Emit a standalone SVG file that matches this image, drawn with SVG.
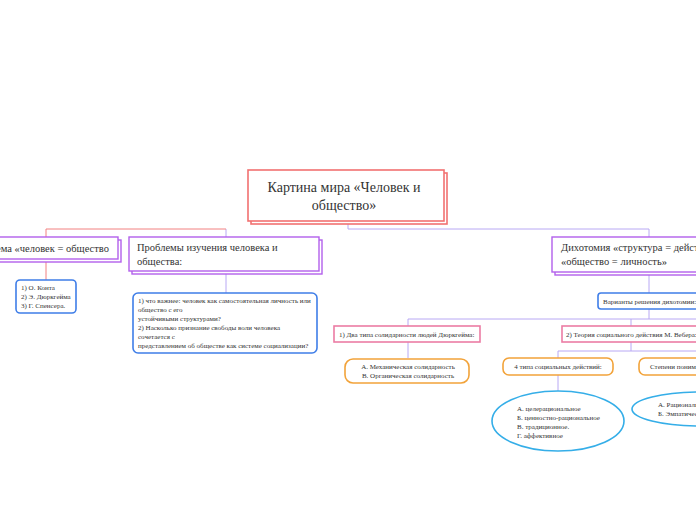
<svg xmlns="http://www.w3.org/2000/svg" width="696" height="520" viewBox="0 0 696 520">
<style>
text{font-family:"Liberation Serif","Times New Roman",serif;fill:#333}
.root{fill:#fff;stroke:#f27171;stroke-width:1.6}
.pur{fill:#fff;stroke:#b260ec;stroke-width:1.4}
.blue{fill:#fff;stroke:#3f7ee8;stroke-width:1.6}
.pink{fill:#fff;stroke:#ec7ca4;stroke-width:1.6}
.orng{fill:#fff;stroke:#f2a33a;stroke-width:1.6}
.ell{fill:#fff;stroke:#35aee8;stroke-width:1.6}
.cr{fill:none;stroke:#f28080;stroke-width:1}
.cl{fill:none;stroke:#b8a8f4;stroke-width:1}
.t11{font-size:10.5px}
.t7{font-size:7px}
</style>
<rect width="696" height="520" fill="#fff"/>
<g id="connectors">
<path class="cl" d="M348 222V229H649V237M226 229V237M226 272V293M649 272V293M649 309V319M408 319H696M408 319V326M631 319V326M408 342V358M631 342V351M558 351H696M558 351V358M558 375V391"/>
<path class="cr" d="M46 229H226M46 229V237M46 259V280"/>
</g>
<g id="root">
<rect class="root" x="251" y="173" width="196" height="51"/>
<rect class="root" x="248" y="170" width="196" height="51"/>
<text x="344" y="192" font-size="14" text-anchor="middle">Картина мира «Человек и</text>
<text x="344" y="210" font-size="14" text-anchor="middle">общество»</text>
</g>
<g id="n1">
<rect class="pur" x="-10" y="240" width="131" height="22"/>
<rect class="pur" x="-13" y="237" width="131" height="22"/>
<text class="t11" x="109" y="252" text-anchor="end">Система «человек = общество</text>
</g>
<g id="n1a">
<rect class="blue" x="16" y="280" width="60" height="33" rx="4"/>
<text class="t7" x="21" y="290">1) О. Конта</text>
<text class="t7" x="21" y="299">2) Э. Дюркгейма</text>
<text class="t7" x="21" y="308">3) Г. Спенсера.</text>
</g>
<g id="n2">
<rect class="pur" x="132" y="240" width="190" height="34"/>
<rect class="pur" x="129" y="237" width="190" height="34"/>
<text class="t11" x="137" y="251">Проблемы изучения человека и</text>
<text class="t11" x="137" y="265">общества:</text>
</g>
<g id="n2a">
<rect class="blue" x="133" y="293" width="184" height="60" rx="5"/>
<text class="t7" x="138" y="303" font-size="6.6">1) что важнее: человек как самостоятельная личность или</text>
<text class="t7" x="138" y="312" font-size="6.6">общество с его</text>
<text class="t7" x="138" y="321" font-size="6.6">устойчивыми структурами?</text>
<text class="t7" x="138" y="330" font-size="6.6">2) Насколько признание свободы воли человека</text>
<text class="t7" x="138" y="339" font-size="6.6">сочетается с</text>
<text class="t7" x="138" y="348" font-size="6.6">представлением об обществе как системе социализации?</text>
</g>
<g id="n3">
<rect class="pur" x="555" y="240" width="190" height="35"/>
<rect class="pur" x="552" y="237" width="190" height="35"/>
<text class="t11" x="561" y="251">Дихотомия «структура = действие»</text>
<text class="t11" x="561" y="265">«общество = личность»</text>
</g>
<g id="n3a">
<rect class="blue" x="598" y="293" width="120" height="16" rx="3"/>
<text class="t7" x="603" y="304">Варианты решения дихотомии:</text>
</g>
<g id="n4">
<rect class="pink" x="334" y="326" width="146" height="16"/>
<text class="t7" x="339" y="337">1) Два типа солидарности людей Дюркгейма:</text>
</g>
<g id="n5">
<rect class="pink" x="562" y="326" width="150" height="16"/>
<text class="t7" x="566" y="337">2) Теория социального действия М. Вебера:</text>
</g>
<g id="n4a">
<rect class="orng" x="345" y="359" width="124" height="24" rx="8"/>
<text class="t7" x="408" y="369" text-anchor="middle">А. Механическая солидарность</text>
<text class="t7" x="408" y="378" text-anchor="middle">В. Органическая солидарность</text>
</g>
<g id="n5a">
<rect class="orng" x="503" y="358" width="110" height="17" rx="6"/>
<text class="t7" x="558" y="369" text-anchor="middle">4 типа социальных действий:</text>
</g>
<g id="n5b">
<rect class="orng" x="639" y="358" width="110" height="17" rx="6"/>
<text class="t7" x="650" y="369">Степени понимания</text>
</g>
<g id="n5a1">
<ellipse class="ell" cx="558" cy="421" rx="66" ry="30"/>
<text class="t7" x="517" y="411">А. целерациональное</text>
<text class="t7" x="517" y="420">Б. ценностно-рациональное</text>
<text class="t7" x="517" y="429">В. традиционное.</text>
<text class="t7" x="517" y="438">Г. аффективное</text>
</g>
<g id="n5b1">
<ellipse class="ell" cx="700" cy="409" rx="68" ry="17"/>
<text class="t7" x="658" y="407">А. Рациональное</text>
<text class="t7" x="658" y="416">Б. Эмпатическое</text>
</g>
</svg>
